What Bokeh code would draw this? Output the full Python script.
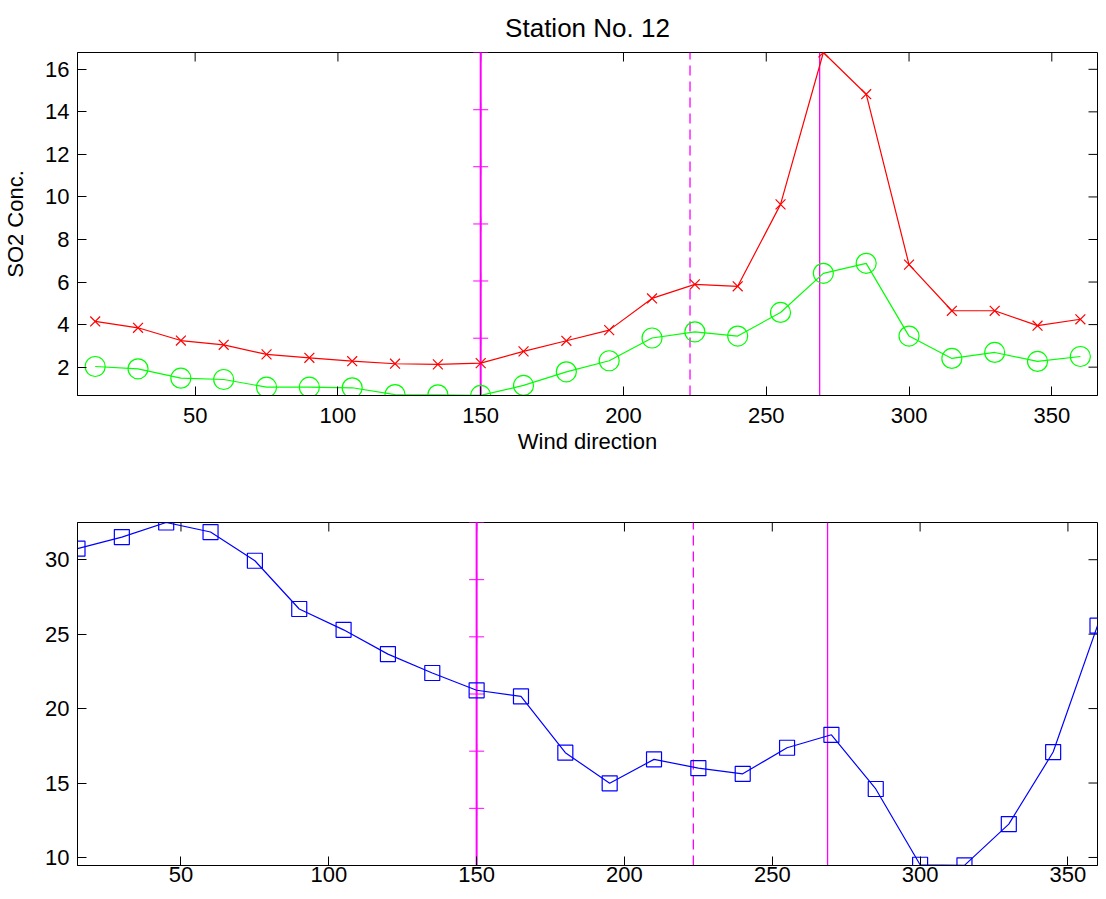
import math
from bokeh.plotting import figure
from bokeh.layouts import column
from bokeh.models import Range1d, FixedTicker, Title
from bokeh.embed import file_html
from bokeh.resources import INLINE

# ---------------- data ----------------
wind_dir = [15, 30, 45, 60, 75, 90, 105, 120, 135, 150, 165, 180,
            195, 210, 225, 240, 255, 270, 285, 300, 315, 330, 345, 360]

so2_red = [4.15, 3.85, 3.25, 3.05, 2.60, 2.44, 2.28, 2.16, 2.13, 2.19, 2.74, 3.24,
           3.74, 5.23, 5.89, 5.80, 9.65, 16.79, 14.83, 6.82, 4.65, 4.65, 3.95, 4.25]

so2_green = [2.03, 1.92, 1.48, 1.42, 1.06, 1.06, 1.03, 0.71, 0.70, 0.67, 1.14, 1.78,
             2.30, 3.37, 3.66, 3.46, 4.57, 6.41, 6.88, 3.46, 2.41, 2.69, 2.27, 2.50]

blue_vals = [30.74, 31.52, 32.50, 31.86, 29.93, 26.69, 25.29, 23.66, 22.39, 21.23, 20.82, 17.04,
             14.98, 16.59, 16.00, 15.62, 17.37, 18.24, 14.60, 9.51, 9.47, 12.24, 17.08, 25.57]

# reference direction lines
line_solid_x = 150
line_dash_x = 223.3
line_thin_x = 268.7
top_vline_marks = [0.67, 3.36, 6.05, 8.73, 11.42, 14.10, 16.79]
bot_vline_marks = [9.46, 13.30, 17.14, 20.98, 24.82, 28.66, 32.50]

x_ticks = [50, 100, 150, 200, 250, 300, 350]
top_y_ticks = [2, 4, 6, 8, 10, 12, 14, 16]
bot_y_ticks = [10, 15, 20, 25, 30]

FONT = "Liberation Sans"
FS = "22px"

RED = "#ff0000"
GREEN = "#00ff00"
BLUE = "#0000ff"
MAG = "#ff00ff"


def style(p, yticks):
    p.xgrid.visible = False
    p.ygrid.visible = False
    p.outline_line_color = "black"
    p.outline_line_width = 1
    p.background_fill_color = "white"
    p.border_fill_color = "white"
    for ax in p.xaxis + p.yaxis:
        ax.major_tick_in = 9
        ax.major_tick_out = 0
        ax.minor_tick_line_color = None
        ax.axis_line_color = "black"
        ax.major_tick_line_color = "black"
        ax.major_label_text_font = FONT
        ax.major_label_text_font_size = FS
        ax.major_label_text_color = "black"
        ax.axis_label_text_font = FONT
        ax.axis_label_text_font_size = FS
        ax.axis_label_text_font_style = "normal"
        ax.axis_label_text_color = "black"
        ax.axis_label_standoff = 0
    p.xaxis.ticker = FixedTicker(ticks=x_ticks)
    p.yaxis.ticker = FixedTicker(ticks=yticks)
    # mirrored inward ticks on the top and right edges (box on)
    xr, yr = p.x_range, p.y_range
    p.ray(x=x_ticks, y=[yr.end] * len(x_ticks), length=9, length_units="screen",
          angle=-math.pi / 2, line_color="black", line_width=1)
    p.ray(x=[xr.end] * len(yticks), y=yticks, length=9, length_units="screen",
          angle=math.pi, line_color="black", line_width=1)


W = 1098
BL = 77
BR = 1

# ---------------- top figure ----------------
p1 = figure(width=W, height=462, output_backend="svg", toolbar_location=None,
            x_range=Range1d(8.8, 366), y_range=Range1d(0.667, 16.79),
            min_border_left=BL, min_border_right=BR, min_border_top=52, min_border_bottom=67)
p1.title = Title(text="Station No. 12", align="center", text_font=FONT,
                 text_font_size="26px", text_font_style="normal", text_color="black",
                 standoff=19)
style(p1, top_y_ticks)
p1.xaxis.axis_label = "Wind direction"
p1.yaxis.axis_label = "SO2 Conc."
p1.xaxis.major_label_standoff = 12
p1.xaxis.axis_label_standoff = 3
p1.yaxis.major_label_standoff = 8
p1.yaxis.axis_label_standoff = 14

p1.line(x=[line_solid_x] * len(top_vline_marks), y=top_vline_marks, line_color=MAG, line_width=2)
p1.scatter(x=[line_solid_x] * len(top_vline_marks), y=top_vline_marks, marker="cross",
           size=15, line_color=MAG, line_width=1)
p1.line(x=[line_dash_x, line_dash_x], y=[top_vline_marks[0], top_vline_marks[-1]],
        line_color=MAG, line_width=1.3, line_dash="10 6")
p1.line(x=[line_thin_x, line_thin_x], y=[top_vline_marks[0], top_vline_marks[-1]],
        line_color=MAG, line_width=1.3)

p1.line(x=wind_dir, y=so2_red, line_color=RED, line_width=1.2)
p1.scatter(x=wind_dir, y=so2_red, marker="x", size=14, line_color=RED, line_width=1.2)
p1.line(x=wind_dir, y=so2_green, line_color=GREEN, line_width=1.2)
p1.scatter(x=wind_dir, y=so2_green, marker="circle", size=20, line_color=GREEN,
           fill_color=None, line_width=1.2)

# ---------------- bottom figure ----------------
p2 = figure(width=W, height=429, output_backend="svg", toolbar_location=None,
            x_range=Range1d(15, 360), y_range=Range1d(9.46, 32.5),
            min_border_left=BL, min_border_right=BR, min_border_top=60, min_border_bottom=26)
style(p2, bot_y_ticks)
p2.xaxis.major_label_standoff = 1
p2.yaxis.major_label_standoff = 8

p2.line(x=[line_solid_x] * len(bot_vline_marks), y=bot_vline_marks, line_color=MAG, line_width=2)
p2.scatter(x=[line_solid_x] * len(bot_vline_marks), y=bot_vline_marks, marker="cross",
           size=15, line_color=MAG, line_width=1)
p2.line(x=[line_dash_x, line_dash_x], y=[bot_vline_marks[0], bot_vline_marks[-1]],
        line_color=MAG, line_width=1.3, line_dash="10 6")
p2.line(x=[line_thin_x, line_thin_x], y=[bot_vline_marks[0], bot_vline_marks[-1]],
        line_color=MAG, line_width=1.3)

p2.line(x=wind_dir, y=blue_vals, line_color=BLUE, line_width=1.2)
p2.scatter(x=wind_dir, y=blue_vals, marker="square", size=15, line_color=BLUE,
           fill_color=None, line_width=1.2)

layout = column(p1, p2, spacing=0)
open("out.html", "w").write(file_html(layout, INLINE))
